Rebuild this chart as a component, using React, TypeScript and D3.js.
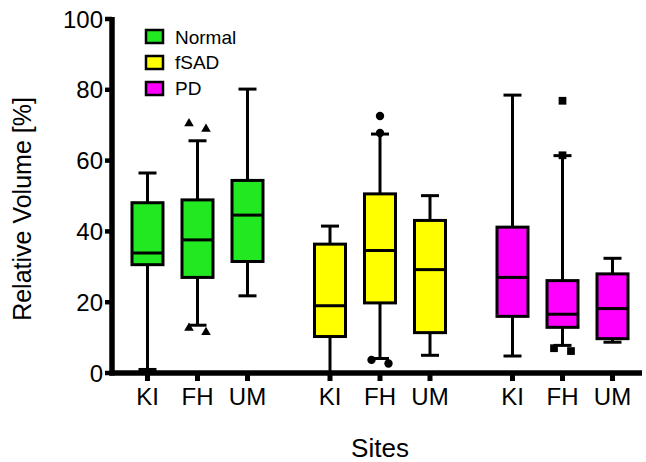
import React from "react";
import * as d3 from "d3";

const sites = ["KI", "FH", "UM"];
const groups = ["Normal", "fSAD", "PD"];
const colors = ["#22e822", "#ffff00", "#ff00ff"];
const yTicks = [0, 20, 40, 60, 80, 100];

// per group, per site
const whiskerLow = [
  [1, 13.5, 21.8],
  [0, 4.1, 5.0],
  [4.8, 7.8, 8.7],
];
const q1 = [
  [30.6, 27.0, 31.5],
  [10.3, 19.8, 11.4],
  [16.0, 12.9, 9.7],
];
const median = [
  [33.9, 37.6, 44.6],
  [19.0, 34.6, 29.2],
  [27.0, 16.6, 18.2],
];
const q3 = [
  [48.1, 48.9, 54.4],
  [36.4, 50.6, 43.1],
  [41.2, 26.1, 28.0],
];
const whiskerHigh = [
  [56.5, 65.6, 80.2],
  [41.5, 67.5, 50.1],
  [78.5, 61.4, 32.4],
];

// outliers: group, site, value, jitter (-1 left, 0 centre, 1 right)
const outlierGroup = [0, 0, 0, 0, 1, 1, 1, 1, 2, 2, 2, 2];
const outlierSite = [1, 1, 1, 1, 1, 1, 1, 1, 1, 1, 1, 1];
const outlierValue = [70.5, 68.9, 12.7, 11.5, 72.6, 67.8, 3.7, 2.7, 76.9, 61.5, 7.0, 6.2];
const outlierJitter = [-1, 1, -1, 1, 0, 0, -1, 1, 0, 0, -1, 1];

const groupStride = 3.65;

export default function App() {
  const W = 646;
  const H = 462;
  const y = d3.scaleLinear().domain([0, 100]).range([373, 19]);
  const x = d3
    .scaleLinear()
    .domain([0, groupStride * 2 + 2])
    .range([147.5, 147.5 + 50 * (groupStride * 2 + 2)]);
  const pos = (g: number, s: number) => x(g * groupStride + s);
  const boxW = 31;
  const capW = 18;
  const font = "'Liberation Sans', Arial, sans-serif";

  const triangle = d3.symbol().type(d3.symbolTriangle).size(40)();
  const circle = d3.symbol().type(d3.symbolCircle).size(55)();
  const square = d3.symbol().type(d3.symbolSquare).size(60)();
  const markers = [triangle, circle, square];

  return (
    <svg width={W} height={H} style={{ display: "block", position: "absolute", left: 0, top: 0 }}>
      <rect width={W} height={H} fill="#fff" />
      {/* boxes */}
      {groups.map((gName, g) =>
        sites.map((sName, s) => {
          const cx = pos(g, s);
          return (
            <g key={gName + sName} stroke="#000" strokeWidth={3}>
              <line x1={cx} x2={cx} y1={y(whiskerLow[g][s])} y2={y(whiskerHigh[g][s])} />
              <line x1={cx - capW / 2} x2={cx + capW / 2} y1={y(whiskerLow[g][s])} y2={y(whiskerLow[g][s])} />
              <line x1={cx - capW / 2} x2={cx + capW / 2} y1={y(whiskerHigh[g][s])} y2={y(whiskerHigh[g][s])} />
              <rect
                x={cx - boxW / 2}
                y={y(q3[g][s])}
                width={boxW}
                height={y(q1[g][s]) - y(q3[g][s])}
                fill={colors[g]}
              />
              <line x1={cx - boxW / 2} x2={cx + boxW / 2} y1={y(median[g][s])} y2={y(median[g][s])} />
            </g>
          );
        })
      )}
      {/* outliers */}
      {outlierValue.map((v, i) => (
        <path
          key={i}
          d={markers[outlierGroup[i]] as string}
          transform={`translate(${pos(outlierGroup[i], outlierSite[i]) + outlierJitter[i] * 8.5},${y(v)})`}
          fill="#000"
        />
      ))}
      {/* y axis */}
      <line x1={112} x2={112} y1={y(100) - 2} y2={y(0) + 2.5} stroke="#000" strokeWidth={5.5} />
      {yTicks.map((t) => (
        <g key={t}>
          <line x1={105} x2={112} y1={y(t)} y2={y(t)} stroke="#000" strokeWidth={4.5} />
          <text
            x={103}
            y={y(t)}
            textAnchor="end"
            dominantBaseline="central"
            fontFamily={font}
            fontSize={24}
            fill="#000"
          >
            {t}
          </text>
        </g>
      ))}
      {/* x axis */}
      <line x1={109.5} x2={642} y1={y(0)} y2={y(0)} stroke="#000" strokeWidth={5.5} />
      {groups.map((gName, g) =>
        sites.map((sName, s) => (
          <g key={"t" + gName + sName}>
            <line x1={pos(g, s)} x2={pos(g, s)} y1={y(0)} y2={y(0) + 8} stroke="#000" strokeWidth={5} />
            <text x={pos(g, s)} y={405} textAnchor="middle" fontFamily={font} fontSize={24} fill="#000">
              {sName}
            </text>
          </g>
        ))
      )}
      <text x={380} y={457} textAnchor="middle" fontFamily={font} fontSize={26} fill="#000">
        Sites
      </text>
      <text
        transform="translate(31,209) rotate(-90)"
        textAnchor="middle"
        fontFamily={font}
        fontSize={25}
        fill="#000"
      >
        Relative Volume [%]
      </text>
      {/* legend */}
      {groups.map((gName, g) => (
        <g key={"l" + gName}>
          <rect x={146} y={30 + g * 26} width={17} height={13} fill={colors[g]} stroke="#000" strokeWidth={2.5} />
          <text
            x={175}
            y={37 + g * 25.5}
            dominantBaseline="central"
            fontFamily={font}
            fontSize={19}
            fill="#000"
          >
            {gName}
          </text>
        </g>
      ))}
    </svg>
  );
}
